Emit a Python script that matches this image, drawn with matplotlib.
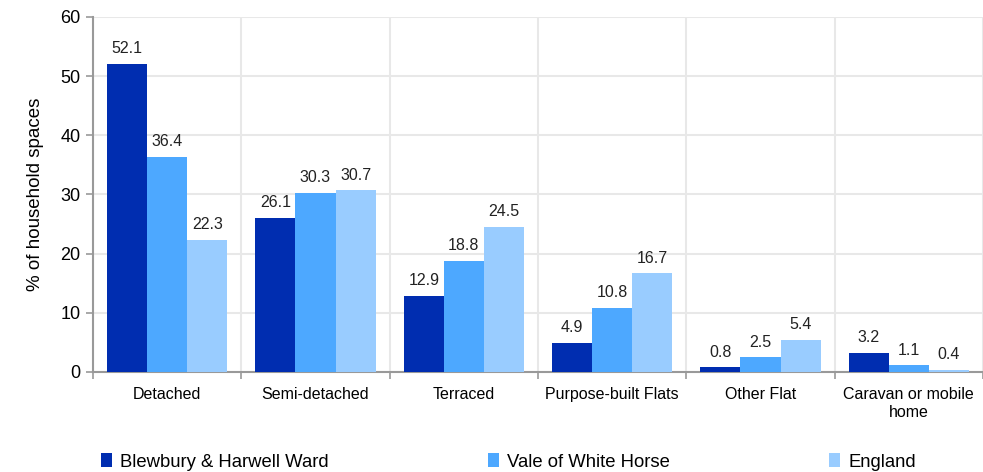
import matplotlib
matplotlib.use("Agg")
import matplotlib.pyplot as plt
import numpy as np
from matplotlib.patches import Patch

plt.rcParams['font.family'] = ['Liberation Sans', 'DejaVu Sans']

categories = ["Detached", "Semi-detached", "Terraced", "Purpose-built Flats",
              "Other Flat", "Caravan or mobile\nhome"]
series_names = ["Blewbury & Harwell Ward", "Vale of White Horse", "England"]
blewbury = [52.1, 26.1, 12.9, 4.9, 0.8, 3.2]
vale = [36.4, 30.3, 18.8, 10.8, 2.5, 1.1]
england = [22.3, 30.7, 24.5, 16.7, 5.4, 0.4]
colors = ["#002DB0", "#4DA8FF", "#99CCFF"]
yticks = [0, 10, 20, 30, 40, 50, 60]

fig = plt.figure(figsize=(9.83, 4.72), dpi=100)
ax = fig.add_axes([0.0946, 0.212, 0.9054, 0.752])

x = np.arange(len(categories))
w = 0.27
for k, (vals, col) in enumerate(zip([blewbury, vale, england], colors)):
    ax.bar(x + (k - 1) * w, vals, width=w, color=col, zorder=3)
    for xi, v in zip(x + (k - 1) * w, vals):
        ax.annotate(f"{v:.1f}", (xi, v), xytext=(0, 5.5), textcoords="offset points",
                    ha="center", va="bottom", fontsize=11.5, color="#222222", zorder=4)

ax.set_xlim(-0.5, len(categories) - 0.5)
ax.set_ylim(0, 60)
ax.set_yticks(yticks)
ax.set_yticklabels([str(t) for t in yticks], fontsize=13)
ax.set_xticks(x)
ax.set_xticklabels(categories, fontsize=11.5, linespacing=1.25)
ax.set_xticks(np.arange(-0.5, len(categories) + 0.5, 1), minor=True)
ax.tick_params(axis='x', which='major', length=0, pad=11)
ax.tick_params(axis='x', which='minor', length=5, color="#999999", width=1.2)
ax.tick_params(axis='y', length=5, color="#999999", width=1.2, pad=4)

ax.grid(axis='y', color="#e8e8e8", linewidth=1.5, zorder=0)
ax.grid(axis='x', which='minor', color="#e8e8e8", linewidth=1.5, zorder=0)
for s in ["top", "right"]:
    ax.spines[s].set_visible(False)
for s in ["left", "bottom"]:
    ax.spines[s].set_color("#999999")
    ax.spines[s].set_linewidth(1.5)

ax.set_ylabel("% of household spaces", fontsize=13.5, labelpad=12)

handles = [Patch(facecolor=c, edgecolor='none') for c in colors]
fig.legend(handles, series_names, loc="center left", bbox_to_anchor=(0.0859, 0.021),
           ncol=3, frameon=False, fontsize=13.3, handlelength=0.6, handleheight=0.75,
           handletextpad=0.45, columnspacing=8.6)

fig.savefig("out.png", dpi=100)
